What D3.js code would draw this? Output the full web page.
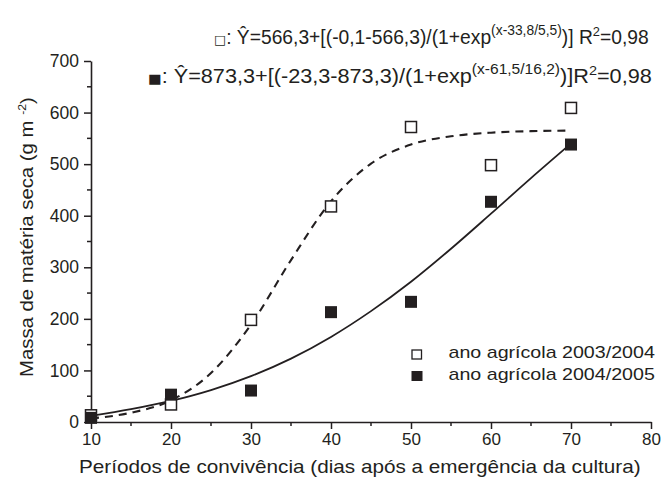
<!DOCTYPE html>
<html>
<head>
<meta charset="utf-8">
<script src="https://cdn.jsdelivr.net/npm/d3@7"></script>
<style>
  body { margin: 0; background: #fff; }
  svg text { font-family: "Liberation Sans", Arial, sans-serif; fill: #231f20; }
</style>
</head>
<body>
<div id="chart"></div>
<script>
// measured points
const days = [10, 20, 30, 40, 50, 60, 70];
const season0304 = [13, 34, 198, 418, 572, 498, 609];
const season0405 = [8, 53, 61, 213, 233, 427, 538];

// fitted curves
const curveDays = [10, 15, 20, 25, 30, 35, 40, 45, 50, 55, 60, 65, 70];
const fit0304 = [7, 18, 42, 95, 189, 314, 428, 501, 538, 554, 561, 564, 565];
const fit0405 = [12, 25, 41, 62, 89, 123, 165, 215, 272, 336, 404, 473, 540];

const xTicks = [10, 20, 30, 40, 50, 60, 70, 80];
const yTicks = [0, 100, 200, 300, 400, 500, 600, 700];
const legendLabels = ['ano agrícola 2003/2004', 'ano agrícola 2004/2005'];

const width = 664, height = 478;
const margin = { top: 61, right: 13, bottom: 56, left: 91 };
const ink = '#231f20';
const font = '"Liberation Sans", Arial, sans-serif';

const svg = d3.select('#chart').append('svg')
  .attr('width', width)
  .attr('height', height);

const x = d3.scaleLinear().domain([10, 80]).range([margin.left, width - margin.right]);
const y = d3.scaleLinear().domain([0, 700]).range([height - margin.bottom, margin.top]);

// stretch a text horizontally so it spans x0..x1
function fitWidth(t, x0, x1) {
  const b = t.node().getBBox();
  const s = (x1 - x0) / b.width;
  t.attr('transform', 'translate(' + x0 + ',0) scale(' + s + ',1) translate(' + (-b.x) + ',0)');
}

// axes with minor ticks
const minorX = d3.range(15, 80, 10);
const minorY = d3.range(50, 700, 100);

const gx = svg.append('g').attr('transform', 'translate(0,' + y(0) + ')');
gx.call(d3.axisBottom(x).tickValues(xTicks).tickSize(7).tickSizeOuter(0).tickPadding(4))
  .call(g => g.select('.domain').attr('stroke', ink).attr('stroke-width', 1.6));
gx.selectAll('.tick line').attr('stroke', ink).attr('stroke-width', 1.5);
gx.selectAll('.tick text').attr('font-size', 17).attr('font-family', font).attr('fill', ink);
gx.selectAll('.minor').data(minorX).enter().append('line')
  .attr('x1', d => x(d)).attr('x2', d => x(d))
  .attr('y1', 0).attr('y2', 4)
  .attr('stroke', ink).attr('stroke-width', 1.5);

const gy = svg.append('g').attr('transform', 'translate(' + x(10) + ',0)');
gy.call(d3.axisLeft(y).tickValues(yTicks).tickSize(7).tickSizeOuter(0).tickPadding(5))
  .call(g => g.select('.domain').attr('stroke', ink).attr('stroke-width', 1.6));
gy.selectAll('.tick line').attr('stroke', ink).attr('stroke-width', 1.5);
gy.selectAll('.tick text').attr('font-size', 17.5).attr('font-family', font).attr('fill', ink);
gy.selectAll('.minor').data(minorY).enter().append('line')
  .attr('y1', d => y(d)).attr('y2', d => y(d))
  .attr('x1', 0).attr('x2', -4)
  .attr('stroke', ink).attr('stroke-width', 1.5);

// axis titles
const xTitle = svg.append('text')
  .attr('x', 0)
  .attr('y', 473)
  .attr('font-size', 18.5)
  .text('Períodos de convivência (dias após a emergência da cultura)');
fitWidth(xTitle, 79, 641);

const yTitle = svg.append('text')
  .attr('font-size', 19);
yTitle.append('tspan').text('Massa de matéria seca (g m ');
yTitle.append('tspan').attr('font-size', 11.5).attr('dy', -7).text('-2');
yTitle.append('tspan').attr('dy', 7).text(')');
{
  const b = yTitle.node().getBBox();
  const s = 280 / b.width;
  yTitle.attr('transform', 'translate(33,237) rotate(-90) scale(' + s + ',1) translate(' + (-b.x - b.width / 2) + ',0)');
}

// fitted curves
const line = d3.line()
  .x((d, i) => x(curveDays[i]))
  .y(d => y(d))
  .curve(d3.curveMonotoneX);

svg.append('path')
  .datum(fit0304)
  .attr('d', line)
  .attr('fill', 'none')
  .attr('stroke', ink)
  .attr('stroke-width', 2.1)
  .attr('stroke-dasharray', '8,6');

svg.append('path')
  .datum(fit0405)
  .attr('d', line)
  .attr('fill', 'none')
  .attr('stroke', ink)
  .attr('stroke-width', 1.8);

// points
const sq = 11;
svg.selectAll('.open').data(season0304).enter().append('rect')
  .attr('x', (d, i) => x(days[i]) - sq / 2)
  .attr('y', d => y(d) - sq / 2)
  .attr('width', sq).attr('height', sq)
  .attr('fill', '#fff').attr('stroke', ink).attr('stroke-width', 1.5);

svg.selectAll('.filled').data(season0405).enter().append('rect')
  .attr('x', (d, i) => x(days[i]) - (sq + 1) / 2)
  .attr('y', d => y(d) - (sq + 1) / 2)
  .attr('width', sq + 1).attr('height', sq + 1)
  .attr('fill', ink);

// legend
const legend = svg.append('g');
legendLabels.forEach((lab, i) => {
  const cy = i === 0 ? 354.5 : 376;
  if (i === 0) {
    legend.append('rect').attr('x', 412).attr('y', cy - 4.5).attr('width', 9.5).attr('height', 9)
      .attr('fill', '#fff').attr('stroke', ink).attr('stroke-width', 1.3);
  } else {
    legend.append('rect').attr('x', 411.5).attr('y', cy - 5).attr('width', 11).attr('height', 10)
      .attr('fill', ink);
  }
  const t = legend.append('text')
    .attr('x', 0).attr('y', cy + 4)
    .attr('font-size', 17)
    .text(lab);
  fitWidth(t, 448.5, 655);
});

// equations
function equation(yPos, x0, x1, sym, main, expo, tail) {
  const t = svg.append('text').attr('x', 0).attr('y', yPos).attr('font-size', 19.5);
  t.append('tspan').attr('font-size', 13).attr('font-family', '"DejaVu Sans", sans-serif').text(sym);
  t.append('tspan').text(main);
  t.append('tspan').attr('font-size', 14).attr('dy', -9).text(expo);
  t.append('tspan').attr('dy', 9).text(tail[0]);
  t.append('tspan').attr('font-size', 13).attr('dy', -8).text('2');
  t.append('tspan').attr('dy', 8).text(tail[1]);
  fitWidth(t, x0, x1);
}
equation(44, 214, 649, '\u25A1', ': \u0176=566,3+[(-0,1-566,3)/(1+exp', '(x-33,8/5,5)', [')] R', '=0,98']);
equation(83, 148, 652, '\u25A0', ': \u0176=873,3+[(-23,3-873,3)/(1+exp', '(x-61,5/16,2)', [')]R', '=0,98']);
</script>
</body>
</html>
